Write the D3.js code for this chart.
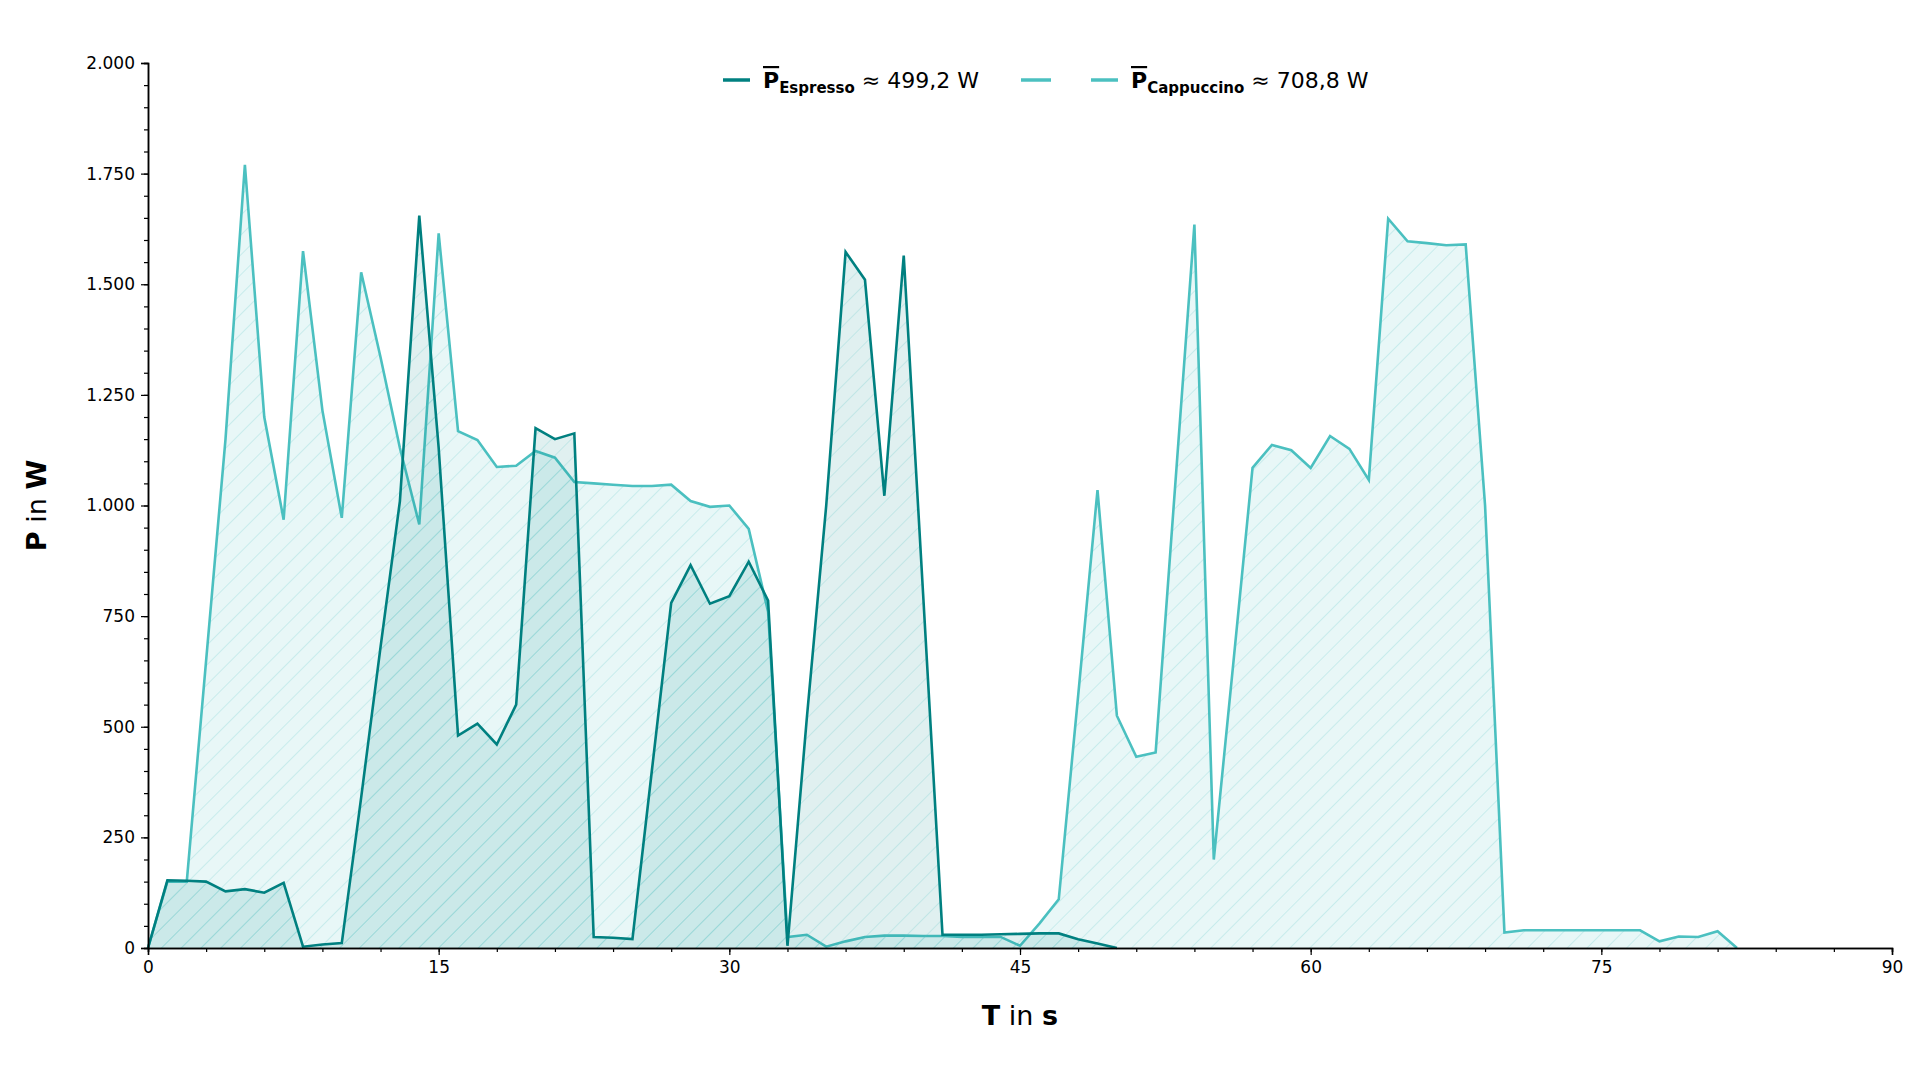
<!DOCTYPE html>
<html>
<head>
<meta charset="utf-8">
<script src="https://cdn.jsdelivr.net/npm/d3@7"></script>
<style>
body { margin: 0; background: #fff; font-family: "DejaVu Sans", sans-serif; }
</style>
</head>
<body>
<div id="chart-area"></div>
<script>
// power readings, one per second
var espresso = [0, 153, 152, 150, 128, 133, 125, 147, 3, 8, 11, 340, 680, 1010, 1655, 1130, 480, 507, 460, 550,
  1175, 1150, 1163, 25, 23, 20, 400, 780, 865, 778, 795, 873, 785, 5, 520, 1000, 1573, 1510, 1022, 1565,
  800, 30, 30, 30, 31, 32, 33, 33, 20, 10, 0]
var cappuccino = [0, 150, 150, 650, 1150, 1770, 1200, 968, 1575, 1215, 972, 1527, 1335, 1130, 957, 1615, 1168, 1148, 1087, 1090,
  1123, 1108, 1053, 1050, 1047, 1044, 1044, 1047, 1010, 997, 1000, 947, 760, 25, 30, 3, 15, 25, 28, 28,
  27, 27, 25, 25, 25, 5, 55, 110, 570, 1035, 525, 432, 442, 1040, 1635, 200, 640, 1085, 1137, 1125,
  1085, 1157, 1128, 1058, 1648, 1597, 1593, 1588, 1590, 1000, 35, 40, 40, 40, 40, 40, 40, 40, 15, 26,
  25, 38, 0]
var xTicks = [0, 15, 30, 45, 60, 75, 90]
var yTicks = [0, 250, 500, 750, 1000, 1250, 1500, 1750, 2000]

var mLeft = 148, mRight = 1892, mTop = 63, mBottom = 948

var svg = d3.select("#chart-area").append("svg")
  .attr("width", 1920)
  .attr("height", 1080)

var defs = svg.append("defs")
var pat = defs.append("pattern")
  .attr("id", "hatch")
  .attr("patternUnits", "userSpaceOnUse")
  .attr("width", 14)
  .attr("height", 14)
  .attr("patternTransform", "rotate(45)")
pat.append("line")
  .attr("x1", 0).attr("y1", 0).attr("x2", 0).attr("y2", 14)
  .attr("stroke", "#4bc0c0").attr("stroke-opacity", 0.35).attr("stroke-width", 1.2)

var x = d3.scaleLinear().domain([0, 90]).range([mLeft, mRight])
var y = d3.scaleLinear().domain([0, 2000]).range([mBottom, mTop])

var de = d3.formatLocale({ decimal: ",", thousands: ".", grouping: [3], currency: ["", "€"] })
var fmtY = function(d) { return d >= 1000 ? de.format(",.3f")(d / 1000).replace(",", ".") : d }

function drawSeries(data, color, fillOpacity) {
  var area = d3.area().x(function(d, i) { return x(i) }).y0(y(0)).y1(function(d) { return y(d) })
  var line = d3.line().x(function(d, i) { return x(i) }).y(function(d) { return y(d) })
  svg.append("path").attr("d", area(data)).attr("fill", color).attr("fill-opacity", fillOpacity)
  svg.append("path").attr("d", area(data)).attr("fill", "url(#hatch)")
  svg.append("path").attr("d", line(data)).attr("fill", "none")
    .attr("stroke", color).attr("stroke-width", 2.6).attr("stroke-linejoin", "miter")
}

drawSeries(cappuccino, "#4bc0c0", 0.13)
drawSeries(espresso, "#008080", 0.12)

// axes
svg.append("g").attr("transform", "translate(0," + mBottom + ")")
  .call(d3.axisBottom(x).tickValues(xTicks).tickSize(7).tickPadding(6))
svg.append("g").attr("transform", "translate(0," + mBottom + ")")
  .call(d3.axisBottom(x).tickValues(d3.range(0, 91, 3)).tickSize(4).tickFormat(""))
svg.append("g").attr("transform", "translate(" + mLeft + ",0)")
  .call(d3.axisLeft(y).tickValues(yTicks).tickFormat(fmtY).tickSize(7).tickPadding(6))
svg.append("g").attr("transform", "translate(" + mLeft + ",0)")
  .call(d3.axisLeft(y).tickValues(d3.range(0, 2001, 50)).tickSize(4).tickFormat(""))
svg.selectAll(".domain").attr("stroke-width", 1.5)
svg.selectAll(".tick line").attr("stroke-width", 1.2)
svg.selectAll(".tick text").attr("font-size", 17).attr("font-family", "DejaVu Sans")

// axis labels
var xl = svg.append("text").attr("x", (mLeft + mRight) / 2).attr("y", 1025)
  .attr("text-anchor", "middle").attr("font-size", 27)
xl.append("tspan").attr("font-weight", "bold").text("T")
xl.append("tspan").text(" in ")
xl.append("tspan").attr("font-weight", "bold").text("s")

var yl = svg.append("text").attr("transform", "translate(46," + (mTop + mBottom) / 2 + ") rotate(-90)")
  .attr("text-anchor", "middle").attr("font-size", 27)
yl.append("tspan").attr("font-weight", "bold").text("P")
yl.append("tspan").text(" in ")
yl.append("tspan").attr("font-weight", "bold").text("W")

// legend
function legendItem(lx, color, dashed, sub, val) {
  var ly = 80
  if (dashed) {
    svg.append("line").attr("x1", lx - 70).attr("x2", lx - 40).attr("y1", ly).attr("y2", ly)
      .attr("stroke", color).attr("stroke-width", 3.5)
  }
  svg.append("line").attr("x1", lx).attr("x2", lx + 27).attr("y1", ly).attr("y2", ly)
    .attr("stroke", color).attr("stroke-width", 3.5)
  var t = svg.append("text").attr("x", lx + 40).attr("y", ly + 8).attr("font-size", 22)
  t.append("tspan").attr("font-weight", "bold").attr("text-decoration", "overline").text("P")
  t.append("tspan").attr("font-weight", "bold").attr("font-size", 15).attr("dy", 5).text(sub)
  t.append("tspan").attr("dy", -5).text(" \u2248 " + val + " W")
}
legendItem(723, "#008080", false, "Espresso", "499,2")
legendItem(1091, "#4bc0c0", true, "Cappuccino", "708,8")
</script>
</body>
</html>
